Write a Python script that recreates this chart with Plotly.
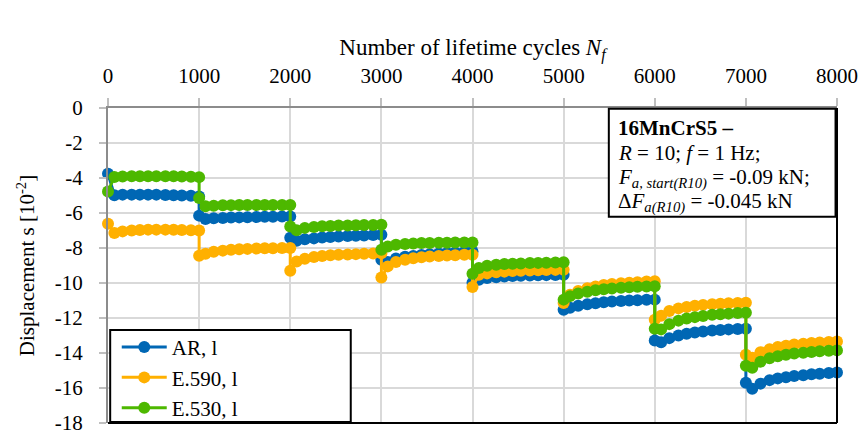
import plotly.graph_objects as go

# ---- data ----
block_starts = [0, 1000, 2000, 3000, 4000, 5000, 6000, 7000]
block_offsets = [0, 70, 160, 260, 350, 440, 530, 630, 720, 810, 910, 1000]

ar_blocks = [
    [-3.75, -4.98, -4.95, -4.95, -4.95, -4.95, -4.95, -4.97, -4.98, -5.00, -5.02, -5.05],
    [-6.15, -6.34, -6.30, -6.28, -6.26, -6.25, -6.24, -6.23, -6.22, -6.22, -6.20, -6.20],
    [-7.41, -7.58, -7.50, -7.45, -7.40, -7.37, -7.34, -7.32, -7.30, -7.28, -7.26, -7.24],
    [-8.67, -8.80, -8.60, -8.50, -8.45, -8.40, -8.36, -8.32, -8.29, -8.26, -8.23, -8.20],
    [-9.98, -9.81, -9.72, -9.67, -9.63, -9.60, -9.58, -9.57, -9.56, -9.55, -9.54, -9.53],
    [-11.53, -11.42, -11.30, -11.22, -11.16, -11.10, -11.06, -11.03, -11.00, -10.98, -10.96, -10.95],
    [-13.28, -13.39, -13.15, -13.00, -12.90, -12.83, -12.77, -12.72, -12.68, -12.65, -12.63, -12.61],
    [-15.70, -16.04, -15.75, -15.55, -15.45, -15.38, -15.32, -15.27, -15.22, -15.18, -15.14, -15.11],
]
e590_blocks = [
    [-6.61, -7.14, -7.05, -7.00, -6.97, -6.95, -6.95, -6.95, -6.96, -6.97, -6.98, -7.00],
    [-8.44, -8.33, -8.22, -8.15, -8.10, -8.07, -8.05, -8.03, -8.02, -8.01, -8.00, -8.00],
    [-9.30, -8.77, -8.62, -8.52, -8.46, -8.42, -8.39, -8.37, -8.35, -8.33, -8.32, -8.30],
    [-9.68, -9.05, -8.80, -8.67, -8.59, -8.53, -8.49, -8.46, -8.43, -8.41, -8.39, -8.38],
    [-10.23, -9.53, -9.45, -9.39, -9.35, -9.32, -9.30, -9.28, -9.27, -9.26, -9.25, -9.24],
    [-11.14, -10.67, -10.45, -10.30, -10.20, -10.12, -10.06, -10.02, -9.98, -9.95, -9.92, -9.90],
    [-12.10, -11.87, -11.60, -11.45, -11.37, -11.30, -11.25, -11.21, -11.18, -11.16, -11.14, -11.13],
    [-14.10, -14.27, -13.95, -13.78, -13.66, -13.58, -13.52, -13.47, -13.43, -13.40, -13.37, -13.34],
]
e530_blocks = [
    [-4.77, -3.94, -3.92, -3.90, -3.90, -3.90, -3.90, -3.90, -3.90, -3.92, -3.93, -3.95],
    [-5.14, -5.62, -5.58, -5.56, -5.55, -5.54, -5.54, -5.54, -5.54, -5.54, -5.54, -5.54],
    [-6.77, -6.99, -6.85, -6.80, -6.76, -6.74, -6.72, -6.71, -6.70, -6.69, -6.68, -6.67],
    [-8.10, -7.91, -7.82, -7.77, -7.74, -7.72, -7.71, -7.70, -7.70, -7.69, -7.69, -7.68],
    [-9.47, -9.14, -9.02, -8.96, -8.92, -8.90, -8.88, -8.86, -8.85, -8.84, -8.83, -8.82],
    [-10.95, -10.75, -10.60, -10.50, -10.42, -10.36, -10.31, -10.27, -10.24, -10.22, -10.20, -10.19],
    [-12.61, -12.65, -12.35, -12.15, -12.03, -11.95, -11.88, -11.82, -11.78, -11.75, -11.72, -11.70],
    [-14.73, -14.84, -14.50, -14.30, -14.18, -14.10, -14.03, -13.98, -13.94, -13.90, -13.87, -13.85],
]
series_names = ["AR, l", "E.590, l", "E.530, l"]
series_colors = ["#0067B4", "#FFB000", "#4DB800"]
x_ticks = [0, 1000, 2000, 3000, 4000, 5000, 6000, 7000, 8000]
y_ticks = [0, -2, -4, -6, -8, -10, -12, -14, -16, -18]

cycles = [s + o for s in block_starts for o in block_offsets]

def flat(blocks):
    return [v for b in blocks for v in b]

FONT = "Liberation Serif"
fig = go.Figure()
for name, col, blocks in zip(series_names, series_colors, [ar_blocks, e590_blocks, e530_blocks]):
    fig.add_trace(go.Scatter(
        x=cycles, y=flat(blocks), name=name, mode="lines+markers",
        line=dict(color=col, width=3),
        marker=dict(color=col, size=12),
        cliponaxis=False,
    ))

fig.update_layout(
    width=860, height=430,
    margin=dict(l=108, r=23, t=108, b=7, autoexpand=False),
    paper_bgcolor="white", plot_bgcolor="white",
    font=dict(family=FONT, size=20, color="black"),
    showlegend=True,
    legend=dict(x=0.012, y=0.305, xanchor="left", yanchor="top",
                bgcolor="rgba(0,0,0,0)", borderwidth=0,
                font=dict(family=FONT, size=21), itemwidth=45),
    xaxis=dict(side="top", range=[0, 8000], tickvals=x_ticks,
               ticktext=[str(v) for v in x_ticks], automargin=False,
               ticklabeloverflow="allow",
               showgrid=True, gridcolor="#d9d9d9", gridwidth=2,
               zeroline=False, showline=True, linecolor="#8c8c8c", linewidth=2,
               ticks="outside", ticklen=8, tickcolor="#bfbfbf", tickwidth=2,
               ticklabelstandoff=7, tickfont=dict(size=21),
               title=dict(text="Number of lifetime cycles <i>N<sub>f</sub></i>",
                          font=dict(size=23), standoff=1)),
    yaxis=dict(range=[-18, 0], tickvals=y_ticks, ticktext=[str(v) for v in y_ticks],
               automargin=False, ticklabeloverflow="allow",
               showgrid=True, gridcolor="#d9d9d9", gridwidth=2,
               zeroline=False, showline=True, linecolor="#8c8c8c", linewidth=2,
               ticks="outside", ticklen=7, tickcolor="#bfbfbf", tickwidth=2,
               ticklabelstandoff=12, tickfont=dict(size=21),
               title=dict(text="Displacement s [10<sup>-2</sup>]", font=dict(size=21), standoff=14)),
)

# plot area right and bottom border
fig.add_shape(type="line", xref="x domain", yref="y domain", x0=1, x1=1, y0=0, y1=1,
              line=dict(color="black", width=2), layer="above")
fig.add_shape(type="line", xref="x domain", yref="y domain", x0=0, x1=1, y0=0, y1=0,
              line=dict(color="black", width=2), layer="above")
# legend box
fig.add_shape(type="rect", xref="x domain", yref="y domain", x0=0.003, x1=0.333, y0=0.003, y1=0.295,
              line=dict(color="black", width=2), fillcolor="white", layer="above")
# info box
fig.add_shape(type="rect", xref="x domain", yref="y domain", x0=0.687, x1=0.998, y0=0.655, y1=0.998,
              line=dict(color="black", width=2), fillcolor="white", layer="above")

info_lines = [
    ("<b>16MnCrS5 –</b>", 128),
    ("<i>R</i> = 10; <i>f</i> = 1 Hz;", 153),
    ("<i>F<sub>a, start(R10)</sub></i> = -0.09 kN;", 178),
    ("Δ<i>F<sub>a(R10)</sub></i> = -0.045 kN", 202),
]
for txt, py in info_lines:
    fig.add_annotation(text=txt, xref="x domain", yref="y domain",
                       x=(616 - 108) / 729, y=(423 - py) / 315,
                       xanchor="left", yanchor="middle", showarrow=False,
                       font=dict(family=FONT, size=21, color="black"))

fig.write_html(
    "out.html",
    config={"displayModeBar": False},
    post_script="document.body.style.margin='0px';document.body.style.overflow='hidden';",
)
